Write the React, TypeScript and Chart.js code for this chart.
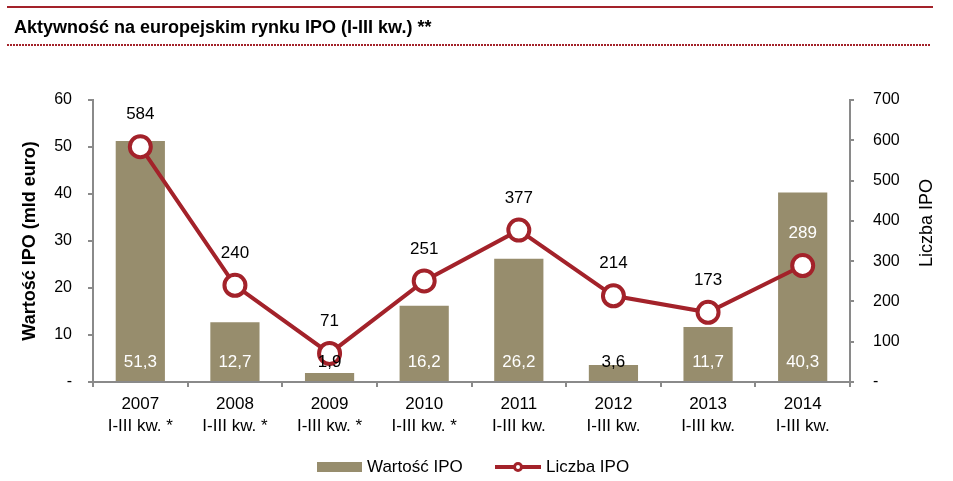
import React, { useEffect, useRef } from "react";
import { Chart, registerables } from "chart.js";

Chart.register(...registerables);

// Years and the period note shown under each year
const years = ["2007", "2008", "2009", "2010", "2011", "2012", "2013", "2014"];
const periods = [
  "I-III kw. *",
  "I-III kw. *",
  "I-III kw. *",
  "I-III kw. *",
  "I-III kw.",
  "I-III kw.",
  "I-III kw.",
  "I-III kw.",
];

// Value of IPOs (bn EUR) and number of IPOs
const ipoValue = [51.3, 12.7, 1.9, 16.2, 26.2, 3.6, 11.7, 40.3];
const ipoCount = [584, 240, 71, 251, 377, 214, 173, 289];

const valueAxisMax = 60;
const valueAxisStep = 10;
const countAxisMax = 700;
const countAxisStep = 100;

const titleText = "Aktywność na europejskim rynku IPO (I-III kw.) **";
const leftAxisTitle = "Wartość IPO (mld euro)";
const rightAxisTitle = "Liczba IPO";
const barSeriesName = "Wartość IPO";
const lineSeriesName = "Liczba IPO";

const FONT = '"Liberation Sans", Arial, Helvetica, sans-serif';
const RED = "#a3222a";
const OLIVE = "#978d6d";
const AXIS = "#8a8a8a";

// dataset indices
const LINE_IDX = 0;
const BAR_IDX = 1;

const fmtValue = (v: number) => v.toFixed(1).replace(".", ",");

const decorations = {
  id: "decorations",
  afterDatasetsDraw(chart: any) {
    const ctx = chart.ctx as CanvasRenderingContext2D;
    const bars = chart.getDatasetMeta(BAR_IDX).data;
    const points = chart.getDatasetMeta(LINE_IDX).data;
    const base = chart.scales.y.getPixelForValue(0);
    ctx.save();
    ctx.font = `17px ${FONT}`;
    ctx.textAlign = "center";
    ctx.textBaseline = "middle";
    bars.forEach((b: any, i: number) => {
      ctx.fillStyle = ipoValue[i] > 5 ? "#ffffff" : "#000000";
      ctx.fillText(fmtValue(ipoValue[i]), b.x, base - 20);
    });
    points.forEach((p: any, i: number) => {
      const ty = p.y - 32;
      const bar = bars[i];
      // labels that sit on top of a bar are drawn in white
      const insideBar = bar && ty - 6 > bar.y && ty < base;
      ctx.fillStyle = insideBar ? "#ffffff" : "#000000";
      ctx.fillText(String(ipoCount[i]), p.x, ty);
    });
    ctx.restore();
  },
  afterDraw(chart: any) {
    const ctx = chart.ctx as CanvasRenderingContext2D;
    const area = chart.chartArea;
    ctx.save();

    // header rules
    ctx.fillStyle = RED;
    ctx.fillRect(7, 6, 926, 2);
    for (let x = 7; x < 931; x += 3) ctx.fillRect(x, 44, 2, 2);

    // header text
    ctx.fillStyle = "#000";
    ctx.font = `bold 18px ${FONT}`;
    ctx.textAlign = "left";
    ctx.textBaseline = "alphabetic";
    ctx.fillText(titleText, 14, 33);

    // axis titles
    const midY = (area.top + area.bottom) / 2;
    ctx.save();
    ctx.translate(30, midY);
    ctx.rotate(-Math.PI / 2);
    ctx.textAlign = "center";
    ctx.textBaseline = "middle";
    ctx.font = `bold 18px ${FONT}`;
    ctx.fillText(leftAxisTitle, 0, 0);
    ctx.restore();

    ctx.save();
    ctx.translate(927, midY - 18);
    ctx.rotate(-Math.PI / 2);
    ctx.textAlign = "center";
    ctx.textBaseline = "middle";
    ctx.font = `18px ${FONT}`;
    ctx.fillText(rightAxisTitle, 0, 0);
    ctx.restore();

    // legend
    const ly = 467;
    ctx.fillStyle = OLIVE;
    ctx.fillRect(317, ly - 5, 45, 10);
    ctx.fillStyle = "#000";
    ctx.font = `17px ${FONT}`;
    ctx.textAlign = "left";
    ctx.textBaseline = "middle";
    ctx.fillText(barSeriesName, 367, ly);

    ctx.strokeStyle = RED;
    ctx.lineWidth = 4;
    ctx.beginPath();
    ctx.moveTo(495, ly);
    ctx.lineTo(541, ly);
    ctx.stroke();
    ctx.beginPath();
    ctx.arc(518, ly, 3.5, 0, Math.PI * 2);
    ctx.fillStyle = "#fff";
    ctx.fill();
    ctx.lineWidth = 3;
    ctx.stroke();
    ctx.fillStyle = "#000";
    ctx.fillText(lineSeriesName, 546, ly);

    ctx.restore();
  },
};

export default function App() {
  const canvasRef = useRef<HTMLCanvasElement | null>(null);

  useEffect(() => {
    document.body.style.margin = "0";
    const canvas = canvasRef.current;
    if (!canvas) return;
    Chart.defaults.font.family = FONT;

    const chart = new Chart(canvas, {
      data: {
        labels: years.map((y, i) => [y, periods[i]]),
        datasets: [
          {
            type: "line",
            label: lineSeriesName,
            data: ipoCount,
            yAxisID: "y1",
            order: 0,
            borderColor: RED,
            borderWidth: 4,
            tension: 0,
            pointRadius: 10.5,
            pointBorderWidth: 4,
            pointBackgroundColor: "#ffffff",
            pointBorderColor: RED,
          },
          {
            type: "bar",
            label: barSeriesName,
            data: ipoValue,
            yAxisID: "y",
            order: 1,
            backgroundColor: OLIVE,
            barPercentage: 0.52,
            categoryPercentage: 1,
          },
        ] as any,
      },
      options: {
        responsive: false,
        animation: false,
        layout: { padding: { top: 100, left: 0, right: 0, bottom: 0 } },
        plugins: {
          legend: { display: false },
          title: { display: false },
          tooltip: { enabled: false },
        },
        scales: {
          x: {
            offset: true,
            grid: {
              display: true,
              offset: true,
              drawOnChartArea: false,
              drawTicks: true,
              tickLength: 5,
              color: AXIS,
              lineWidth: 2,
            },
            border: { display: true, color: AXIS, width: 2 },
            ticks: {
              color: "#000",
              font: { size: 17, lineHeight: 1.3 },
              padding: 6,
              maxRotation: 0,
              autoSkip: false,
            },
            afterFit: (s: any) => {
              s.height = 99;
            },
          },
          y: {
            position: "left",
            min: 0,
            max: valueAxisMax,
            grid: {
              display: true,
              drawOnChartArea: false,
              drawTicks: true,
              tickLength: 5,
              color: AXIS,
              lineWidth: 2,
            },
            border: { display: true, color: AXIS, width: 2 },
            ticks: {
              stepSize: valueAxisStep,
              color: "#000",
              font: { size: 16 },
              padding: 16,
              callback: (v: any) => (Number(v) === 0 ? "-" : String(v)),
            },
            afterFit: (s: any) => {
              s.width = 93;
            },
          },
          y1: {
            position: "right",
            min: 0,
            max: countAxisMax,
            grid: {
              display: true,
              drawOnChartArea: false,
              drawTicks: true,
              tickLength: 4,
              color: AXIS,
              lineWidth: 2,
            },
            border: { display: true, color: AXIS, width: 2 },
            ticks: {
              stepSize: countAxisStep,
              color: "#000",
              font: { size: 16 },
              padding: 19,
              callback: (v: any) => (Number(v) === 0 ? "-" : String(v)),
            },
            afterFit: (s: any) => {
              s.width = 103;
            },
          },
        },
      } as any,
      plugins: [decorations],
    });

    return () => chart.destroy();
  }, []);

  return (
    <div style={{ position: "relative", width: 953, height: 481, background: "#fff" }}>
      <canvas ref={canvasRef} width={953} height={481} style={{ display: "block" }} />
    </div>
  );
}
